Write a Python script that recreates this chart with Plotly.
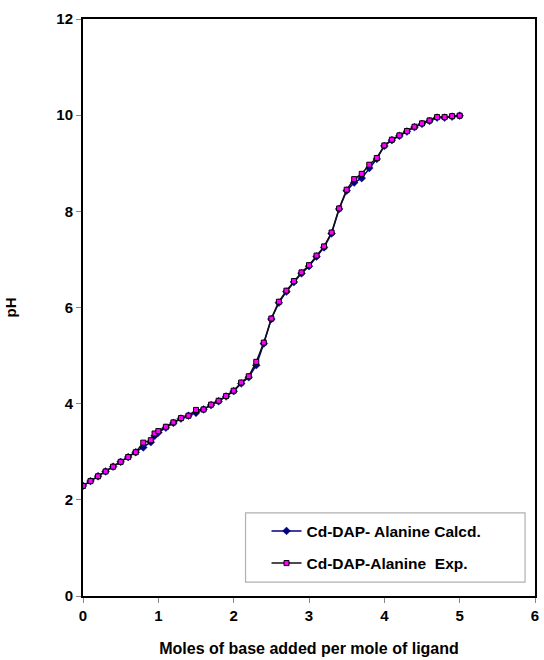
import plotly.graph_objects as go

x_vals = [0.0, 0.1, 0.2, 0.3, 0.4, 0.5, 0.6, 0.7, 0.8, 0.9, 0.95, 1.0, 1.1, 1.2, 1.3, 1.4,
          1.5, 1.6, 1.7, 1.8, 1.9, 2.0, 2.1, 2.2, 2.3, 2.4, 2.5, 2.6, 2.7, 2.8, 2.9,
          3.0, 3.1, 3.2, 3.3, 3.4, 3.5, 3.6, 3.7, 3.8, 3.9, 4.0, 4.1, 4.2, 4.3, 4.4,
          4.5, 4.6, 4.7, 4.8, 4.9, 5.0]

ph_exp = [2.29, 2.39, 2.49, 2.59, 2.69, 2.79, 2.89, 2.99, 3.19, 3.24, 3.38, 3.43, 3.52,
          3.61, 3.70, 3.75, 3.87, 3.88, 3.98, 4.06, 4.16, 4.27, 4.44, 4.57, 4.87, 5.27,
          5.77, 6.12, 6.35, 6.55, 6.73, 6.88, 7.08, 7.27, 7.56, 8.06, 8.45, 8.67, 8.78,
          8.97, 9.11, 9.37, 9.49, 9.58, 9.67, 9.76, 9.83, 9.89, 9.96, 9.96, 9.98, 9.99]

ph_calc = [2.29, 2.39, 2.49, 2.59, 2.69, 2.79, 2.89, 2.99, 3.09, 3.20, 3.33, 3.40, 3.50,
           3.60, 3.69, 3.75, 3.81, 3.88, 3.97, 4.05, 4.15, 4.26, 4.42, 4.55, 4.80, 5.25,
           5.76, 6.10, 6.33, 6.53, 6.71, 6.86, 7.06, 7.25, 7.54, 8.05, 8.43, 8.60, 8.69,
           8.90, 9.09, 9.36, 9.48, 9.57, 9.66, 9.75, 9.82, 9.88, 9.95, 9.95, 9.97, 9.99]

x_ticks = [0, 1, 2, 3, 4, 5, 6]
y_ticks = [0, 2, 4, 6, 8, 10, 12]

FONT = "Liberation Sans, Arial, sans-serif"

fig = go.Figure()
fig.add_trace(go.Scatter(
    x=x_vals, y=ph_calc, mode="lines+markers", name="Cd-DAP- Alanine Calcd.",
    legendgroup="calc",
    line=dict(color="#000080", width=1.5),
    marker=dict(symbol="diamond", size=6, color="#000080", line=dict(color="#000080", width=0.5)),
))
fig.add_trace(go.Scatter(
    x=x_vals, y=ph_exp, mode="lines+markers", name="Cd-DAP-Alanine  Exp.",
    legendgroup="exp",
    line=dict(color="#111111", width=1.5),
    marker=dict(symbol="square", size=5, color="#ff00ff", line=dict(color="#000000", width=1)),
))

# legend frame
fig.add_shape(type="rect", xref="paper", yref="paper",
              x0=0.3596, x1=0.978, y0=0.0242, y1=0.1442,
              line=dict(color="#b0b0b0", width=1.2), fillcolor="white", layer="below")

fig.update_layout(
    width=544, height=660,
    margin=dict(l=83, r=5, t=19, b=63),
    paper_bgcolor="white", plot_bgcolor="white",
    font=dict(family=FONT, size=15, color="black"),
    showlegend=True,
    legend=dict(
        x=0.406, y=0.1415, xanchor="left", yanchor="top",
        bgcolor="rgba(0,0,0,0)", borderwidth=0,
        font=dict(family=FONT, size=15.5, color="black", weight="bold"),
        itemwidth=30, tracegroupgap=9,
    ),
    xaxis=dict(
        range=[0, 6], tickvals=x_ticks, ticktext=[str(v) for v in x_ticks],
        showgrid=False, zeroline=False,
        showline=True, linecolor="black", linewidth=2, mirror=True,
        ticks="outside", ticklen=5, tickcolor="#888888", tickwidth=1,
        tickfont=dict(family=FONT, size=15, weight="bold"),
        title=dict(text="<b>Moles of base added per mole of ligand</b>", standoff=20,
                   font=dict(family=FONT, size=16)),
    ),
    yaxis=dict(
        range=[0, 12], tickvals=y_ticks, ticktext=[str(v) for v in y_ticks],
        showgrid=False, zeroline=False,
        showline=True, linecolor="black", linewidth=2, mirror=True,
        ticks="outside", ticklen=5, tickcolor="#888888", tickwidth=1,
        tickfont=dict(family=FONT, size=15, weight="bold"),
        title=dict(text="<b>pH</b>", standoff=36, font=dict(family=FONT, size=15)),
    ),
)

fig.write_html("out.html")
